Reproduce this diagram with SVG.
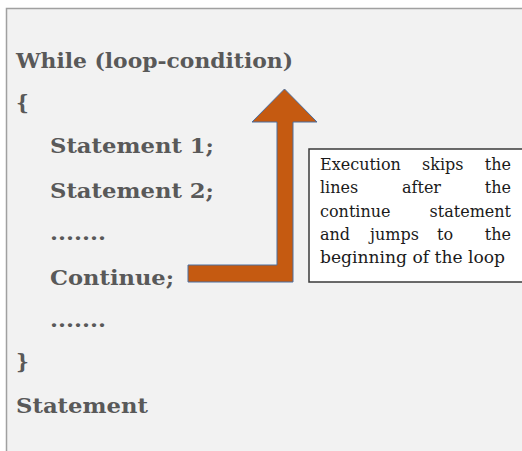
<svg xmlns="http://www.w3.org/2000/svg" width="522" height="451" viewBox="0 0 522 451">
<style>
.code{font-family:"DejaVu Serif","Liberation Serif",serif;font-weight:bold;font-size:20px;fill:#595959}
.note{font-family:"DejaVu Serif","Liberation Serif",serif;font-size:16px;fill:#1a1a1a}
</style>
<rect x="0" y="0" width="522" height="451" fill="#ffffff"/>
<rect id="frame" x="6.5" y="8.5" width="530" height="460" fill="#f2f2f2" stroke="#a0a0a0" stroke-width="1.5"/>
<g id="code">
<text class="code" x="16" y="68" textLength="277" lengthAdjust="spacingAndGlyphs">While (loop-condition)</text>
<text class="code" x="16" y="110">{</text>
<text class="code" x="50" y="153" textLength="164" lengthAdjust="spacingAndGlyphs">Statement 1;</text>
<text class="code" x="50" y="198" textLength="164" lengthAdjust="spacingAndGlyphs">Statement 2;</text>
<text class="code" x="50" y="240" textLength="56" lengthAdjust="spacingAndGlyphs">.......</text>
<text class="code" x="50" y="285" textLength="124" lengthAdjust="spacingAndGlyphs">Continue;</text>
<text class="code" x="50" y="327" textLength="56" lengthAdjust="spacingAndGlyphs">.......</text>
<text class="code" x="16" y="369">}</text>
<text class="code" x="16" y="413" textLength="132" lengthAdjust="spacingAndGlyphs">Statement</text>
</g>
<g id="connectors">
<polygon points="188,265 277,265 277,122 252,122 284.5,89 317,122 293,122 293,282 188,282" fill="#c55a11" stroke="#4a6fa0" stroke-width="1"/>
</g>
<g id="note">
<rect x="309" y="149" width="220" height="133" fill="#ffffff" stroke="#3a3a3a" stroke-width="1.5"/>
<text class="note" x="320" y="170">Execution</text>
<text class="note" x="422" y="170">skips</text>
<text class="note" x="511" y="170" text-anchor="end">the</text>
<text class="note" x="320" y="193">lines</text>
<text class="note" x="402" y="193">after</text>
<text class="note" x="511" y="193" text-anchor="end">the</text>
<text class="note" x="320" y="217">continue</text>
<text class="note" x="511" y="217" text-anchor="end">statement</text>
<text class="note" x="320" y="240">and</text>
<text class="note" x="370" y="240">jumps</text>
<text class="note" x="437" y="240">to</text>
<text class="note" x="511" y="240" text-anchor="end">the</text>
<text class="note" x="320" y="263" textLength="185" lengthAdjust="spacingAndGlyphs">beginning of the loop</text>
</g>
</svg>
